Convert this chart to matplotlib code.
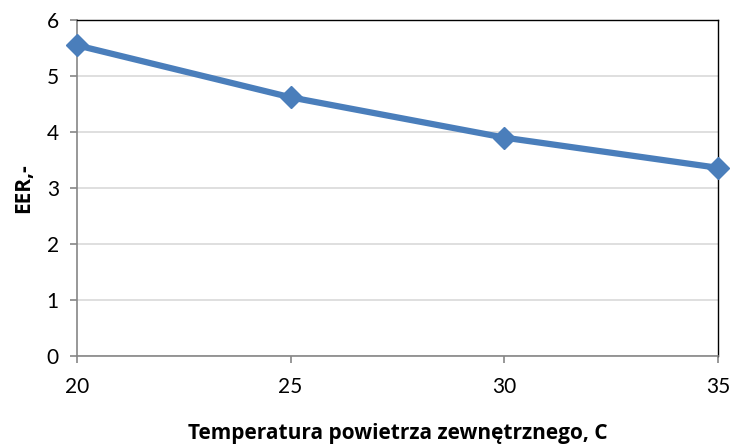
import matplotlib
matplotlib.use("Agg")
import matplotlib.pyplot as plt

temps = [20, 25, 30, 35]
eer = [5.55, 4.62, 3.90, 3.36]
y_ticks = [0, 1, 2, 3, 4, 5, 6]
x_ticks = [20, 25, 30, 35]

plt.rcParams['font.family'] = ['Lato', 'DejaVu Sans']

fig = plt.figure(figsize=(7.32, 4.46), dpi=100)
ax = fig.add_axes([0.105, 0.202, 0.876, 0.753])

ax.plot(temps, eer, color='#4a7ebb', lw=4.5, marker='D', markersize=11,
        markerfacecolor='#4a7ebb', markeredgecolor='#4a7ebb', zorder=3,
        clip_on=False)

ax.set_xlim(20, 35)
ax.set_ylim(0, 6)
ax.set_xticks(x_ticks)
ax.set_yticks(y_ticks)
ax.yaxis.grid(True, color='#d9d9d9', lw=1.2)
ax.set_axisbelow(True)

for side in ['left', 'bottom']:
    ax.spines[side].set_color('#868686')
    ax.spines[side].set_linewidth(1.2)
for side in ['top', 'right']:
    ax.spines[side].set_color('black')
    ax.spines[side].set_linewidth(1.0)

ax.tick_params(axis='both', direction='out', length=5, width=1.2, color='#868686',
               labelsize=15)
ax.tick_params(axis='y', pad=8)
ax.tick_params(axis='x', pad=10)

lab_font = ['Open Sans', 'DejaVu Sans']
ax.set_ylabel('EER,-', fontsize=15, fontweight='bold', family=lab_font,
              labelpad=9)
ax.set_xlabel('Temperatura powietrza zewnętrznego, C', fontsize=15,
              fontweight='bold', family=lab_font, labelpad=19)

fig.savefig('out.png', dpi=100)
